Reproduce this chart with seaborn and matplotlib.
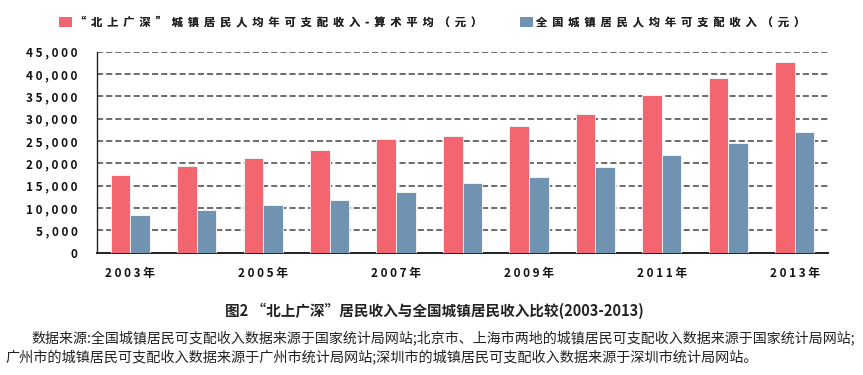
import numpy as np
import pandas as pd
import matplotlib
matplotlib.use('Agg')
import matplotlib.pyplot as plt
from matplotlib.patches import Patch
import seaborn as sns

# 数据 (读图估计, 单位: 元)
years = ['2003', '2004', '2005', '2006', '2007', '2008', '2009', '2010', '2011', '2012', '2013']
bsgs_avg = [17400, 19400, 21100, 23100, 25500, 26200, 28300, 31100, 35400, 39100, 42600]
national = [8500, 9500, 10600, 11700, 13700, 15700, 17000, 19100, 21800, 24600, 27000]
series_names = ['“北上广深”城镇居民人均年可支配收入-算术平均（元）', '全国城镇居民人均年可支配收入（元）']
y_ticks = [0, 5000, 10000, 15000, 20000, 25000, 30000, 35000, 40000, 45000]
x_label_years = ['2003', '2005', '2007', '2009', '2011', '2013']

colors = ['#F4666F', '#6F93B1']

df = pd.DataFrame({
    'year': years * 2,
    'value': bsgs_avg + national,
    'series': [series_names[0]] * len(years) + [series_names[1]] * len(years),
})


def spaced(s, sep=' '):
    return sep.join(list(s))


sns.set_style('white')
plt.rcParams['font.family'] = ['Noto Sans CJK SC', 'DejaVu Sans']

fig = plt.figure(figsize=(8.63, 3.75), dpi=100)
ax = fig.add_axes([97 / 863, 1 - 252.7 / 375, (828 - 97) / 863, (252.7 - 51.7) / 375])

sns.barplot(data=df, x='year', y='value', hue='series', hue_order=series_names,
            palette=colors, saturation=1, width=0.59, ax=ax, legend=False,
            edgecolor='#f3f3f3', linewidth=0.7, zorder=3)

ax.set_xlim(-0.5, len(years) - 0.5)
ax.set_ylim(0, 45000)
ax.set_yticks(y_ticks)
ax.set_yticklabels([spaced(f'{v:,}') for v in y_ticks], fontsize=8.5,
                   fontweight='bold', color='#111111')
ax.tick_params(axis='y', length=0, pad=14)

ax.set_xticks([years.index(y) for y in x_label_years])
ax.set_xticklabels([spaced(y) + ' 年' for y in x_label_years], fontsize=8.5,
                   fontweight='bold', color='#111111')
ax.tick_params(axis='x', length=0, pad=10)
ax.set_xticks(np.arange(1.5, len(years) - 1, 2), minor=True)
ax.tick_params(axis='x', which='minor', direction='in', length=3, width=0.9, color='#222222')

ax.yaxis.grid(True, linestyle=(0, (4, 2)), color='#444444', linewidth=1.1, zorder=0)
ax.xaxis.grid(False)
ax.set_axisbelow(True)
ax.set_xlabel('')
ax.set_ylabel('')

for side in ['top', 'right']:
    ax.spines[side].set_visible(False)
ax.spines['left'].set_color('#222222')
ax.spines['left'].set_linewidth(1.0)
ax.spines['bottom'].set_color('#222222')
ax.spines['bottom'].set_linewidth(1.4)

# 图例 (两项分别定位)
legend_x = [59 / 863, 520 / 863]
for c, name, lx in zip(colors, series_names, legend_x):
    leg = fig.legend([Patch(facecolor=c, edgecolor='none')], [spaced(name, '  ')],
                     loc='center left', bbox_to_anchor=(lx, 1 - 22 / 375), frameon=False,
                     borderaxespad=0, borderpad=0, handlelength=1.2, handleheight=1.0,
                     handletextpad=0.2, prop={'size': 8, 'weight': 'bold'},
                     labelcolor='#222222')
    fig.add_artist(leg)

# 标题与数据来源
fig.text(434 / 863, 1 - 311 / 375, '图2 “北上广深”居民收入与全国城镇居民收入比较(2003-2013)',
         ha='center', va='center', fontsize=10.5, fontweight='bold', color='#222222')
fig.text(31 / 863, 1 - 338 / 375,
         '数据来源:全国城镇居民可支配收入数据来源于国家统计局网站;北京市、上海市两地的城镇居民可支配收入数据来源于国家统计局网站;',
         ha='left', va='center', fontsize=10.05, color='#222222')
fig.text(5 / 863, 1 - 358 / 375,
         '广州市的城镇居民可支配收入数据来源于广州市统计局网站;深圳市的城镇居民可支配收入数据来源于深圳市统计局网站。',
         ha='left', va='center', fontsize=10.2, color='#222222')

fig.savefig('out.png', dpi=100)
